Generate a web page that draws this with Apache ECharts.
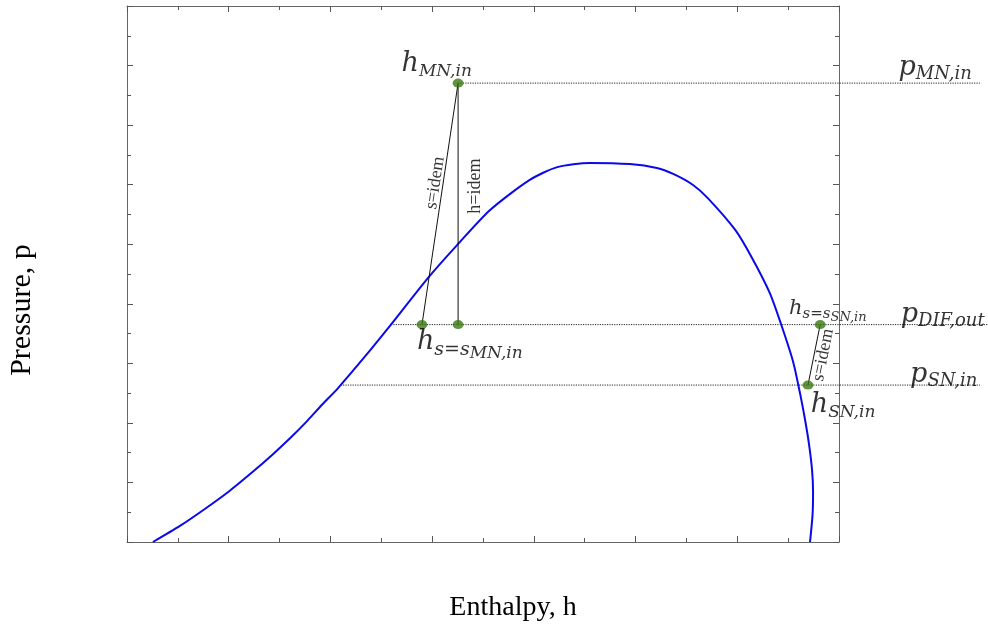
<!DOCTYPE html>
<html>
<head>
<meta charset="utf-8">
<script src="https://cdn.jsdelivr.net/npm/echarts@6/dist/echarts.min.js"></script>
<style>html,body{margin:0;padding:0;background:#fff}#c{width:988px;height:625px}</style>
</head>
<body>
<div id="c"></div>
<script>
// Saturation dome (enthalpy h, pressure p) in axis units
const domeH = [0.51,1.04,1.53,1.99,2.42,2.87,3.21,3.54,3.83,4.15,4.68,5.19,5.92,6.49,7.14,7.92,8.46,9.10,9.89,10.42,10.74,11.13,11.42,11.96,12.29,12.64,12.86,13.10,13.24,13.33,13.41,13.47,13.49,13.48,13.43];
const domeP = [0,0.54,1.11,1.68,2.28,2.95,3.49,4.06,4.60,5.17,6.23,7.30,8.87,9.97,11.15,12.16,12.59,12.73,12.69,12.56,12.36,11.99,11.55,10.48,9.54,8.36,7.32,6.04,4.94,4.13,3.29,2.42,1.68,0.91,0];

// State points
const pointNames = ['hMNin','hsMN','hDIF','hsSN','hSNin'];
const pointH = [6.51, 5.80, 6.51, 13.63, 13.39];
const pointP = [15.41, 7.30, 7.30, 7.30, 5.27];

// Isobars (dotted)
const isobarP = [15.41, 7.30, 5.27];
const isobarStartH = [6.51, 5.19, 4.20];
const isobarEndH = [16.77, 16.93, 16.77];

// Process lines: [from point index, to point index]
const processLines = [[0,1],[0,2],[3,4]];

// Annotation labels
const labelTexts = ['{h|h}{s|MN,in}', '{hB|h}{sB|s=s}{ssB|MN,in}', '{hC|h}{sC|s=s}{ssC|SN,in}', '{h|p}{sp|DIF,out}', '{h|p}{sp|SN,in}', '{h|h}{s|SN,in}', '{h|p}{sp|MN,in}'];
const labelH = [6.09, 6.74, 13.78, 16.04, 16.06, 14.08, 15.89];
const labelP = [15.98, 6.61, 7.76, 7.56, 5.54, 4.53, 15.85];

const idemTexts = ['s=idem', 'h=idem', 's=idem'];
const idemH = [6.06, 6.84, 13.69];
const idemP = [12.06, 11.95, 6.28];
const idemAngle = [81.5, 90, 78.7];

const chart = echarts.init(document.getElementById('c'), null, {renderer: 'canvas'});

const axisCommon = {
  type: 'value',
  axisLine: {show: true, onZero: false, lineStyle: {color: '#666', width: 1}},
  axisTick: {show: true, inside: true, length: 6, lineStyle: {color: '#555'}},
  minorTick: {show: true, splitNumber: 2, length: 4, lineStyle: {color: '#555'}},
  axisLabel: {show: false},
  splitLine: {show: false},
  minorSplitLine: {show: false}
};

const mathFont = 'DejaVu Serif';
function mf(size, padBottom) {
  return {fontFamily: mathFont, fontStyle: 'italic', fontSize: size, color: '#000', verticalAlign: 'bottom', padding: [0, 0, padBottom, 0]};
}
const rich = {
  h: mf(27, 4), s: mf(17, 2), sp: mf(18, 2),
  hB: mf(27, 7), sB: mf(19, 3), ssB: mf(17, 0),
  hC: mf(21, 5), sC: mf(15, 2), ssC: mf(13, 0)
};

const series = [];
series.push({
  type: 'line', name: 'dome', smooth: 0.25, symbol: 'none',
  data: domeH.map((h, i) => [h, domeP[i]]),
  lineStyle: {color: '#0a0ae8', width: 2}, z: 3
});
isobarP.forEach((p, i) => {
  series.push({
    type: 'line', symbol: 'none', xAxisIndex: 2, yAxisIndex: 2,
    data: [[isobarStartH[i], p], [isobarEndH[i], p]],
    lineStyle: {color: '#222', width: 1, type: [1.2, 1.2]}, z: 2
  });
});
processLines.forEach(([a, b]) => {
  series.push({
    type: 'line', symbol: 'none',
    data: [[pointH[a], pointP[a]], [pointH[b], pointP[b]]],
    lineStyle: {color: '#111', width: 1}, z: 4
  });
});
series.push({
  type: 'scatter', symbol: 'circle', symbolSize: [11, 9],
  data: pointH.map((h, i) => ({name: pointNames[i], value: [h, pointP[i]]})),
  itemStyle: {color: '#3a7812'}, z: 6
});
series.push({
  type: 'scatter', symbolSize: 0, silent: true, xAxisIndex: 2, yAxisIndex: 2,
  data: labelH.map((h, i) => ({value: [h, labelP[i]], label: {formatter: labelTexts[i]}})),
  label: {show: true, position: 'inside', rich: rich},
  z: 7
});
series.push({
  type: 'scatter', symbolSize: 0, silent: true,
  data: idemH.map((h, i) => ({value: [h, idemP[i]], label: {formatter: idemTexts[i], rotate: idemAngle[i]}})),
  label: {show: true, position: 'inside', fontFamily: 'Liberation Serif', fontSize: 18, color: '#000'},
  z: 7
});

chart.setOption({
  animation: false,
  backgroundColor: '#fff',
  grid: [
    {left: 127, right: 149, top: 6, bottom: 83, containLabel: false},
    {left: 127, right: 0, top: 6, bottom: 83, containLabel: false}
  ],
  xAxis: [
    Object.assign({}, axisCommon, {position: 'bottom', min: 0, max: 14, interval: 2}),
    Object.assign({}, axisCommon, {position: 'top', min: 0, max: 14, interval: 2}),
    {type: 'value', gridIndex: 1, min: 0, max: 16.93, show: false}
  ],
  yAxis: [
    Object.assign({}, axisCommon, {position: 'left', min: 0, max: 18, interval: 2}),
    Object.assign({}, axisCommon, {position: 'right', min: 0, max: 18, interval: 2}),
    {type: 'value', gridIndex: 1, min: 0, max: 18, show: false}
  ],
  graphic: [
    {type: 'text', x: 513, y: 608, style: {text: 'Enthalpy, h', font: '28px "Liberation Serif"', fill: '#000', textAlign: 'center', textVerticalAlign: 'middle'}},
    {type: 'text', x: 22, y: 310, rotation: Math.PI / 2, style: {text: 'Pressure, p', font: '30px "Liberation Serif"', fill: '#000', textAlign: 'center', textVerticalAlign: 'middle'}}
  ],
  series: series
});
</script>
</body>
</html>
